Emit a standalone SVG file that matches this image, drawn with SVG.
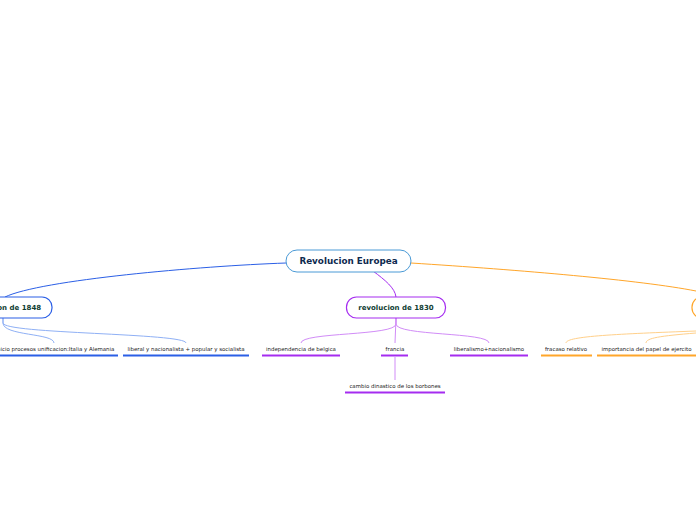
<svg xmlns="http://www.w3.org/2000/svg" width="696" height="520" viewBox="0 0 696 520">
<style>
.root{fill:#fff;stroke:#4a9ad6;stroke-width:1}
.n{fill:#fff;stroke-width:1.2}
.t1{font-family:"DejaVu Sans",sans-serif;font-weight:bold;font-size:8.8px;fill:#0e2a4f;text-anchor:middle}
.t2{font-family:"DejaVu Sans",sans-serif;font-weight:bold;font-size:7px;fill:#0f3d32;text-anchor:middle}
.t3{font-family:"DejaVu Sans",sans-serif;font-size:5.45px;fill:#222;text-anchor:middle}
.c{fill:none;stroke-width:1}
.u{stroke-width:2}
</style>
<rect width="696" height="520" fill="#fff"/>
<g id="connectors">
<path class="c" stroke="#2b5fe6" d="M286,263 C200,266 40,280 5,297"/>
<path class="c" stroke="#a52cf0" d="M373,271 C385,280 395,288 396,297"/>
<path class="c" stroke="#ffa62a" d="M411,263 C520,270 640,280 696,291"/>
<path class="c" stroke="#8fb0f5" d="M3,318 L3,323 C3,336 54,333 54,343"/>
<path class="c" stroke="#8fb0f5" d="M3,318 L3,323 C3,334 186,333 186,343"/>
<path class="c" stroke="#d18cf7" d="M396,318 L396,324 C396,336 301,332 301,343"/>
<path class="c" stroke="#d18cf7" d="M396,318 L395,343"/>
<path class="c" stroke="#d18cf7" d="M396,318 L396,324 C396,336 489,332 489,343"/>
<path class="c" stroke="#d18cf7" d="M395,357 L395,380"/>
<path class="c" stroke="#ffd08a" d="M696,331 C620,334 566,336 566,343"/>
<path class="c" stroke="#ffd08a" d="M696,333 C660,336 646,338 646,343"/>
</g>
<g id="root">
<rect class="root" x="286" y="250" width="125" height="22" rx="11"/>
<text class="t1" x="348.5" y="264.2">Revolucion Europea</text>
</g>
<g id="n1848">
<rect class="n" stroke="#2b5fe6" x="-48" y="297" width="100" height="21" rx="10"/>
<text class="t2" x="3.5" y="310">revolucion de 1848</text>
</g>
<g id="n1830">
<rect class="n" stroke="#a52cf0" x="346.5" y="297" width="99" height="21" rx="10"/>
<text class="t2" x="396" y="310">revolucion de 1830</text>
</g>
<g id="nright">
<rect class="n" stroke="#ffa62a" x="692" y="297" width="100" height="21" rx="10"/>
</g>
<g id="l1">
<text class="t3" x="55" y="350.5">inicio procesos unificacion:Italia y Alemania</text>
<line class="u" stroke="#2b5fe6" x1="-10" y1="355.5" x2="118" y2="355.5"/>
</g>
<g id="l2">
<text class="t3" x="186" y="350.5">liberal y nacionalista + popular y socialista</text>
<line class="u" stroke="#2b5fe6" x1="123" y1="355.5" x2="249" y2="355.5"/>
</g>
<g id="l3">
<text class="t3" x="301" y="350.5">independencia de belgica</text>
<line class="u" stroke="#a52cf0" x1="262" y1="355.5" x2="340" y2="355.5"/>
</g>
<g id="l4">
<text class="t3" x="395" y="350.5">francia</text>
<line class="u" stroke="#a52cf0" x1="381" y1="355.5" x2="408" y2="355.5"/>
</g>
<g id="l5">
<text class="t3" x="489" y="350.5">liberalismo+nacionalismo</text>
<line class="u" stroke="#a52cf0" x1="450" y1="355.5" x2="528" y2="355.5"/>
</g>
<g id="l6">
<text class="t3" x="395" y="387.5">cambio dinastico de los borbones</text>
<line class="u" stroke="#a52cf0" x1="345" y1="392.5" x2="445" y2="392.5"/>
</g>
<g id="l7">
<text class="t3" x="566" y="350.5">fracaso relativo</text>
<line class="u" stroke="#ffa62a" x1="541" y1="355.5" x2="592" y2="355.5"/>
</g>
<g id="l8">
<text class="t3" x="646.5" y="350.5">importancia del papel de ejercito</text>
<line class="u" stroke="#ffa62a" x1="597" y1="355.5" x2="700" y2="355.5"/>
</g>
</svg>
